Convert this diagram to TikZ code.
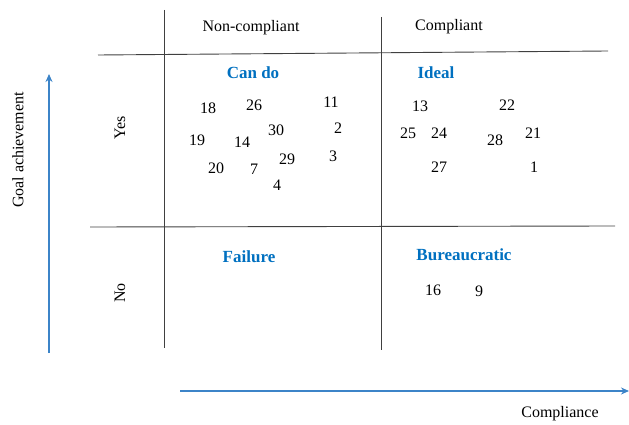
\documentclass[tikz,border=0pt]{standalone}
\usepackage{fontspec}
\setmainfont{Liberation Serif}
\definecolor{labelblue}{RGB}{0,112,192}
\definecolor{arrowblue}{RGB}{60,132,200}
\tikzset{
  num/.style={font=\fontsize{16}{19}\selectfont},
  quad/.style={font=\fontsize{17}{20}\selectfont\bfseries, text=labelblue},
  axislabel/.style={font=\fontsize{16}{19}\selectfont},
  grid/.style={draw=black!75, line width=0.9pt},
  axis/.style={draw=arrowblue, line width=1.2pt, -{Stealth[length=8pt,width=7pt]}}
}
\usetikzlibrary{arrows.meta}
\begin{document}
\begin{tikzpicture}[x=1pt, y=-1pt]
  \useasboundingbox (0,0) rectangle (629,425);

  % Grid lines
  \coordinate (v1t) at (164,10);  \coordinate (v1b) at (164,348);
  \coordinate (v2t) at (381,17);  \coordinate (v2b) at (381,350);
  \coordinate (h1l) at (98,55);   \coordinate (h1r) at (608,51);
  \coordinate (h2l) at (90,227);  \coordinate (h2r) at (615,226);
  \draw[grid] (v1t) -- (v1b);
  \draw[grid] (v2t) -- (v2b);
  \draw[grid] (h1l) -- (h1r);
  \draw[grid] (h2l) -- (h2r);

  % Axes
  \coordinate (ya0) at (49,353); \coordinate (ya1) at (49,74);
  \coordinate (xa0) at (180,391); \coordinate (xa1) at (629,391);
  \draw[axis] (ya0) -- (ya1);
  \draw[axis] (xa0) -- (xa1);
  \node[axislabel, rotate=90] (goal) at (18,150) {Goal achievement};
  \node[axislabel] (compl) at (560,414) {Compliance};

  % Headers
  \node[axislabel] (noncomp) at (251,28) {Non-compliant};
  \node[axislabel] (comp) at (449,27) {Compliant};
  \node[axislabel, rotate=90] (yes) at (120,128) {Yes};
  \node[axislabel, rotate=90] (no) at (120,293) {No};

  % Quadrant names
  \node[quad] (cando) at (253,73) {Can do};
  \node[quad] (ideal) at (436,73) {Ideal};
  \node[quad] (failure) at (249,257) {Failure};
  \node[quad] (bureau) at (464,255) {Bureaucratic};

  % Cases, can do
  \node[num] (n18) at (208,108) {18};
  \node[num] (n26) at (254,105) {26};
  \node[num] (n11) at (331,102) {11};
  \node[num] (n2)  at (338,128) {2};
  \node[num] (n30) at (276,130) {30};
  \node[num] (n19) at (197,140) {19};
  \node[num] (n14) at (242,142) {14};
  \node[num] (n29) at (287,159) {29};
  \node[num] (n3)  at (333,156) {3};
  \node[num] (n20) at (216,168) {20};
  \node[num] (n7)  at (254,169) {7};
  \node[num] (n4)  at (277,185) {4};

  % Cases, ideal
  \node[num] (n13) at (420,106) {13};
  \node[num] (n22) at (507,105) {22};
  \node[num] (n25) at (408,133) {25};
  \node[num] (n24) at (439,133) {24};
  \node[num] (n28) at (495,140) {28};
  \node[num] (n21) at (533,133) {21};
  \node[num] (n27) at (439,167) {27};
  \node[num] (n1)  at (534,167) {1};

  % Cases, bureaucratic
  \node[num] (n16) at (433,290) {16};
  \node[num] (n9)  at (479,291) {9};
\end{tikzpicture}
\end{document}
